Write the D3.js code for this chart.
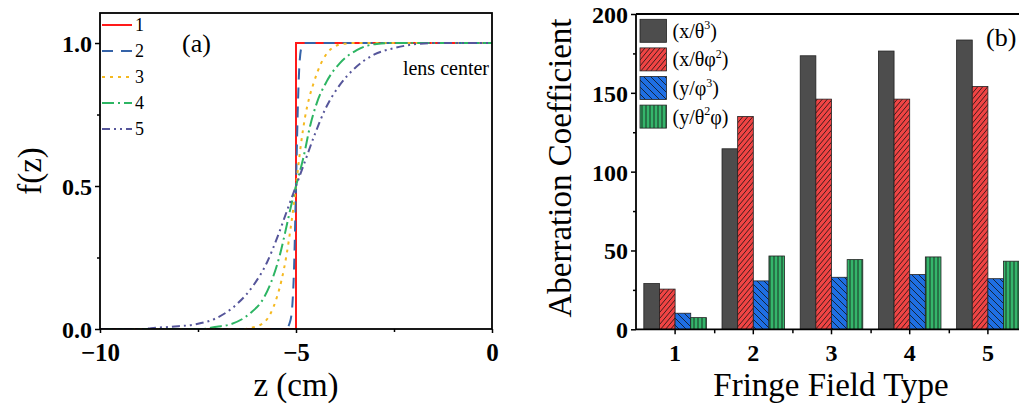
<!DOCTYPE html>
<html><head><meta charset="utf-8">
<script src="https://cdn.jsdelivr.net/npm/d3@7"></script>
<style>
html,body{margin:0;padding:0;background:#fff;}
svg{display:block;}
</style></head>
<body>
<svg id="chart" width="1019" height="406"></svg>
<script>
// ---------- Panel (a) data: fringe field profiles f(z) ----------
const curveNames = ["1", "2", "3", "4", "5"];
const curve1 = [[-10,0],[-5,0],[-5,1],[0,1]];
const curve2 = [[-10,0],[-5.26,0],[-5.15,0.026],[-5.09,0.09],[-5.05,0.21],[-5.0,0.5],[-4.95,0.79],[-4.91,0.93],[-4.85,0.99],[-4.78,1.0],[0,1]];
const curve3 = [[-10,0],[-6.35,0],[-6.09,0.006],[-5.79,0.026],[-5.49,0.11],[-5.37,0.17],[-5.24,0.26],[-5.14,0.35],[-5.07,0.42],[-5.0,0.5],[-4.86,0.66],[-4.77,0.74],[-4.66,0.81],[-4.55,0.86],[-4.45,0.9],[-4.3,0.945],[-4.1,0.98],[-3.8,0.997],[-3.5,1],[0,1]];
const curve4 = [[-10,0],[-7.4,0],[-7.02,0.008],[-6.68,0.016],[-6.17,0.055],[-5.83,0.107],[-5.59,0.18],[-5.41,0.26],[-5.24,0.36],[-5.11,0.44],[-5.0,0.5],[-4.81,0.6],[-4.64,0.71],[-4.47,0.79],[-4.22,0.865],[-3.88,0.93],[-3.45,0.975],[-2.94,0.997],[-2.5,1],[0,1]];
const curve5 = [[-10,0],[-8.9,0],[-8.7,0.003],[-8.17,0.008],[-7.5,0.018],[-7.05,0.037],[-6.5,0.088],[-6.1,0.15],[-5.75,0.23],[-5.45,0.33],[-5.2,0.425],[-5.0,0.5],[-4.8,0.575],[-4.55,0.67],[-4.25,0.77],[-3.9,0.85],[-3.5,0.912],[-3.0,0.96],[-2.5,0.982],[-1.9,0.997],[-1.5,1],[0,1]];
const zTicks = [-10, -5, 0];
const zMinorTicks = [-7.5, -2.5];
const fTicks = [0, 0.5, 1.0];
const fMinorTicks = [0.25, 0.75];

// ---------- Panel (b) data: aberration coefficients ----------
const fringeTypes = ["1", "2", "3", "4", "5"];
const seriesLabels = ["x/θ3", "x/θφ2", "y/φ3", "y/θ2φ"];
const xTheta3   = [29, 114.5, 173.5, 176.5, 183.5];
const xThetaPhi2 = [25.5, 135, 146, 146, 154];
const yPhi3     = [10.2, 30.7, 33, 34.7, 32.1];
const yTheta2Phi = [7.4, 46.5, 44.2, 45.9, 43.2];
const abTicks = [0, 50, 100, 150, 200];
const abMinorTicks = [25, 75, 125, 175];

const FONT = "'Liberation Serif', Tinos, 'Times New Roman', Times, 'DejaVu Serif', 'Noto Serif', serif";
const svg = d3.select("#chart").attr("font-family", FONT);
const defs = svg.append("defs");

// ================= Panel (a) =================
const A = {l:100, r:492, t:13, b:329};
const xA = d3.scaleLinear().domain([-10, 0]).range([A.l, A.r]);
const yA = d3.scaleLinear().domain([0, 1.105]).range([A.b, A.t]);

defs.append("clipPath").attr("id","clipA").append("rect")
  .attr("x", A.l).attr("y", A.t - 2).attr("width", A.r - A.l).attr("height", A.b - A.t + 2);

const curveStyles = [
  {data: curve1, color: "#ff1a1a", dash: null},
  {data: curve2, color: "#3563a8", dash: "11,8"},
  {data: curve3, color: "#f5b920", dash: "3,5"},
  {data: curve4, color: "#2db563", dash: "12,4,2,4"},
  {data: curve5, color: "#55559a", dash: "8,4,2,4,2,4"}
];
const gCurves = svg.append("g").attr("clip-path", "url(#clipA)");
curveStyles.forEach((c, idx) => {
  const line = d3.line().x(d => xA(d[0])).y(d => yA(d[1]))
    .curve(idx === 0 ? d3.curveLinear : d3.curveMonotoneX);
  gCurves.append("path").datum(c.data).attr("d", line)
    .attr("fill", "none").attr("stroke", c.color).attr("stroke-width", 2)
    .attr("stroke-dasharray", c.dash);
});

// frame
svg.append("rect").attr("x", A.l).attr("y", A.t).attr("width", A.r - A.l).attr("height", A.b - A.t)
  .attr("fill", "none").attr("stroke", "#000").attr("stroke-width", 1.8);

// axes
const axAx = svg.append("g").attr("transform", `translate(0,${A.b})`)
  .call(d3.axisBottom(xA).tickValues(zTicks).tickSize(4).tickFormat(d => d === 0 ? "0" : String(d).replace("-", "\u2212")));
const axAxMinor = svg.append("g").attr("transform", `translate(0,${A.b})`)
  .call(d3.axisBottom(xA).tickValues(zMinorTicks).tickSize(3).tickFormat(""));
const axAy = svg.append("g").attr("transform", `translate(${A.l},0)`)
  .call(d3.axisLeft(yA).tickValues(fTicks).tickSize(5).tickFormat(d3.format(".1f")));
const axAyMinor = svg.append("g").attr("transform", `translate(${A.l},0)`)
  .call(d3.axisLeft(yA).tickValues(fMinorTicks).tickSize(3).tickFormat(""));

[axAx, axAxMinor, axAy, axAyMinor].forEach(g => {
  g.attr("font-family", FONT);
  g.select(".domain").remove();
  g.selectAll(".tick line").attr("stroke", "#000").attr("stroke-width", 1.5);
});
axAx.selectAll(".tick text").attr("font-size", 25).attr("font-weight", "bold").attr("fill", "#000")
  .attr("y", 0).attr("dy", 0).attr("transform", "translate(0,32)");
axAy.selectAll(".tick text").attr("font-size", 24).attr("font-weight", "bold").attr("fill", "#000")
  .attr("x", -8).attr("dy", "0.35em");

// titles
svg.append("text").attr("x", 296).attr("y", 396).attr("text-anchor", "middle")
  .attr("font-size", 33).text("z (cm)");
svg.append("text").attr("transform", "translate(41,171) rotate(-90)").attr("text-anchor", "middle")
  .attr("font-size", 33).text("f(z)");
svg.append("text").attr("x", 182).attr("y", 52).attr("font-size", 26).text("(a)");
svg.append("text").attr("x", 489).attr("y", 75).attr("text-anchor", "end").attr("font-size", 20).text("lens center");

// legend (a)
const legA = svg.append("g");
curveStyles.forEach((c, i) => {
  const y = 25 + i * 26;
  legA.append("line").attr("x1", 102).attr("x2", 132).attr("y1", y).attr("y2", y)
    .attr("stroke", c.color).attr("stroke-width", 2).attr("stroke-dasharray", c.dash);
  legA.append("text").attr("x", 135).attr("y", y).attr("dy", "0.35em").attr("font-size", 18).text(curveNames[i]);
});

// ================= Panel (b) =================
const B = {l:636, r:1027, t:14, b:329.3};
const xB = d3.scaleBand().domain(fringeTypes).range([B.l, B.r]).paddingInner(0.2).paddingOuter(0.1);
const xBlin = d3.scaleLinear().domain([0.5, 5.5]).range([B.l, B.r]);
const xSub = d3.scaleBand().domain(d3.range(4)).range([0, xB.bandwidth()]);
const yB = d3.scaleLinear().domain([0, 200]).range([B.b, B.t]);

// patterns
const pRed = defs.append("pattern").attr("id", "patRed").attr("patternUnits", "userSpaceOnUse")
  .attr("width", 5).attr("height", 6);
pRed.append("rect").attr("width", 5).attr("height", 6).attr("fill", "#f04444");
pRed.append("path").attr("d", "M0,6 L5,0 M-5,6 L0,0 M5,6 L10,0").attr("stroke", "#111").attr("stroke-width", 0.8);
const pBlue = defs.append("pattern").attr("id", "patBlue").attr("patternUnits", "userSpaceOnUse")
  .attr("width", 7).attr("height", 7);
pBlue.append("rect").attr("width", 7).attr("height", 7).attr("fill", "#1f6fe3");
pBlue.append("path").attr("d", "M0,0 L7,7 M-7,0 L0,7 M7,0 L14,7 M0,-7 L7,0 M0,7 L7,14").attr("stroke", "#111").attr("stroke-width", 0.8);
const pGreen = defs.append("pattern").attr("id", "patGreen").attr("patternUnits", "userSpaceOnUse")
  .attr("width", 4).attr("height", 4);
pGreen.append("rect").attr("width", 4).attr("height", 4).attr("fill", "#35b56b");
pGreen.append("path").attr("d", "M2,0 L2,4").attr("stroke", "#111").attr("stroke-width", 0.8);

const seriesFill = ["#4d4d4d", "url(#patRed)", "url(#patBlue)", "url(#patGreen)"];
const seriesData = [xTheta3, xThetaPhi2, yPhi3, yTheta2Phi];

const gBars = svg.append("g");
seriesData.forEach((vals, s) => {
  gBars.selectAll(null).data(fringeTypes.map((c, i) => ({c, v: vals[i]}))).enter()
    .append("rect")
    .attr("x", d => xB(d.c) + xSub(s))
    .attr("y", d => yB(d.v))
    .attr("width", xSub.bandwidth())
    .attr("height", d => yB(0) - yB(d.v))
    .attr("fill", seriesFill[s]).attr("stroke", "#222").attr("stroke-width", 0.8);
});

// frame (b): left, bottom, top
svg.append("line").attr("x1", B.l).attr("x2", B.r).attr("y1", B.t).attr("y2", B.t).attr("stroke", "#000").attr("stroke-width", 1.8);
svg.append("line").attr("x1", B.l).attr("x2", B.l).attr("y1", B.t).attr("y2", B.b).attr("stroke", "#000").attr("stroke-width", 1.8);
svg.append("line").attr("x1", B.l).attr("x2", B.r).attr("y1", B.b).attr("y2", B.b).attr("stroke", "#000").attr("stroke-width", 1.8);

const bxMaj = svg.append("g").attr("transform", `translate(0,${B.b})`)
  .call(d3.axisBottom(xB).tickSize(5).tickSizeOuter(0));
const bxMin = svg.append("g").attr("transform", `translate(0,${B.b})`)
  .call(d3.axisBottom(xBlin).tickValues([1.5, 2.5, 3.5, 4.5]).tickSize(4).tickFormat(""));
const byMaj = svg.append("g").attr("transform", `translate(${B.l},0)`)
  .call(d3.axisLeft(yB).tickValues(abTicks).tickSize(5));
const byMin = svg.append("g").attr("transform", `translate(${B.l},0)`)
  .call(d3.axisLeft(yB).tickValues(abMinorTicks).tickSize(3).tickFormat(""));
[bxMaj, bxMin, byMaj, byMin].forEach(g => {
  g.attr("font-family", FONT);
  g.select(".domain").remove();
  g.selectAll(".tick line").attr("stroke", "#000").attr("stroke-width", 1.5);
});
bxMaj.selectAll(".tick text").attr("font-size", 24).attr("font-weight", "bold").attr("fill", "#000")
  .attr("y", 0).attr("dy", 0).attr("transform", "translate(0,32)");
byMaj.selectAll(".tick text").attr("font-size", 24).attr("font-weight", "bold").attr("fill", "#000")
  .attr("x", -8).attr("dy", "0.35em");

svg.append("text").attr("x", 831).attr("y", 396).attr("text-anchor", "middle")
  .attr("font-size", 33).text("Fringe Field Type");
svg.append("text").attr("transform", "translate(571,168) rotate(-90)").attr("text-anchor", "middle")
  .attr("font-size", 33).text("Aberration Coefficient");
svg.append("text").attr("x", 986).attr("y", 46).attr("font-size", 26).text("(b)");

// legend (b)
const legB = svg.append("g");
const legendParts = [
  [["(x/θ", 0], ["3", 1], [")", 0]],
  [["(x/θφ", 0], ["2", 1], [")", 0]],
  [["(y/φ", 0], ["3", 1], [")", 0]],
  [["(y/θ", 0], ["2", 1], ["φ)", 0]]
];
seriesLabels.forEach((lab, i) => {
  const y0 = 19.3 + i * 28.6;
  legB.append("rect").attr("x", 640).attr("y", y0).attr("width", 26.5).attr("height", 23)
    .attr("fill", seriesFill[i]).attr("stroke", "#222").attr("stroke-width", 0.8);
  const t = legB.append("text").attr("x", 672.5).attr("y", y0 + 11.5).attr("dy", "0.35em").attr("font-size", 20);
  legendParts[i].forEach(([s, sup], k) => {
    const ts = t.append("tspan").text(s);
    if (sup) ts.attr("font-size", 12).attr("dy", "-0.7em");
    else if (k > 0) ts.attr("dy", "0.42em");
  });
});
</script>
</body></html>
